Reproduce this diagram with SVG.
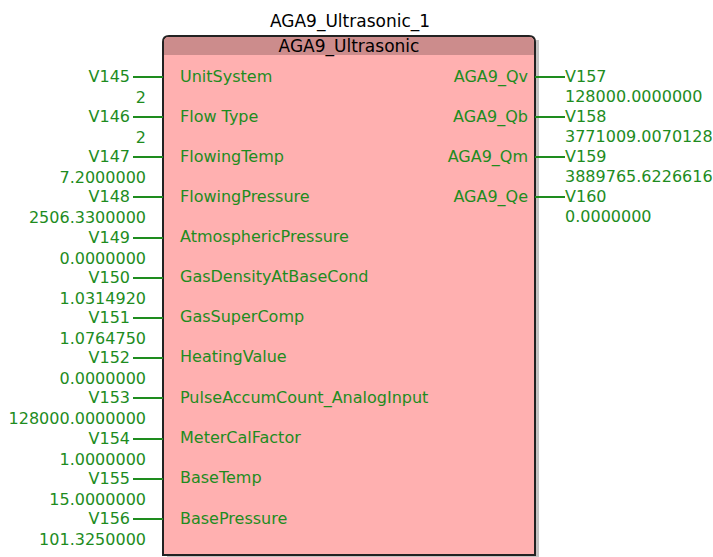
<svg xmlns="http://www.w3.org/2000/svg" width="713" height="557" viewBox="0 0 713 557">
<style>
.t{font-family:"DejaVu Sans","Liberation Sans",sans-serif;font-size:16px;fill:#1e8c1e}
.r{text-anchor:end}
.k{font-family:"DejaVu Sans","Liberation Sans",sans-serif;font-size:17px;fill:#000;text-anchor:middle}
.w{stroke:#1e8c1e;stroke-width:2}
</style>
<rect width="713" height="557" fill="#fff"/>
<g id="block">
<text class="k" x="350" y="27">AGA9_Ultrasonic_1</text>
<path d="M167,40 L167,558 L539,558 L539,40 Z" fill="#888" opacity="0.5"/>
<path d="M163,555 L163,42 Q163,36 169,36 L529,36 Q535,36 535,42 L535,555 Z" fill="#ffb0b0" stroke="#222" stroke-width="2"/>
<path d="M164,55 L164,42 Q164,37 169,37 L529,37 Q534,37 534,42 L534,55 Z" fill="#cc8c8c"/>
<text class="k" x="349" y="52">AGA9_Ultrasonic</text>
<g class="t">
<text x="180" y="82">UnitSystem</text>
<text x="180" y="122">Flow Type</text>
<text x="180" y="162">FlowingTemp</text>
<text x="180" y="202">FlowingPressure</text>
<text x="180" y="242">AtmosphericPressure</text>
<text x="180" y="282">GasDensityAtBaseCond</text>
<text x="180" y="322">GasSuperComp</text>
<text x="180" y="362">HeatingValue</text>
<text x="180" y="403">PulseAccumCount_AnalogInput</text>
<text x="180" y="443">MeterCalFactor</text>
<text x="180" y="483">BaseTemp</text>
<text x="180" y="524">BasePressure</text>
<text class="r" x="528" y="82">AGA9_Qv</text>
<text class="r" x="528" y="122">AGA9_Qb</text>
<text class="r" x="528" y="162">AGA9_Qm</text>
<text class="r" x="528" y="202">AGA9_Qe</text>
</g>
</g>
<g id="connectors" class="w">
<line x1="133" y1="77" x2="163" y2="77"/>
<line x1="133" y1="117" x2="163" y2="117"/>
<line x1="133" y1="157" x2="163" y2="157"/>
<line x1="133" y1="197" x2="163" y2="197"/>
<line x1="133" y1="238" x2="163" y2="238"/>
<line x1="133" y1="278" x2="163" y2="278"/>
<line x1="133" y1="318" x2="163" y2="318"/>
<line x1="133" y1="358" x2="163" y2="358"/>
<line x1="133" y1="398" x2="163" y2="398"/>
<line x1="133" y1="439" x2="163" y2="439"/>
<line x1="133" y1="479" x2="163" y2="479"/>
<line x1="133" y1="519" x2="163" y2="519"/>
<line x1="535" y1="77" x2="565" y2="77"/>
<line x1="535" y1="117" x2="565" y2="117"/>
<line x1="535" y1="157" x2="565" y2="157"/>
<line x1="535" y1="197" x2="565" y2="197"/>
</g>
<g id="inputs" class="t r">
<text x="130" y="82">V145</text><text x="146" y="103">2</text>
<text x="130" y="122">V146</text><text x="146" y="143">2</text>
<text x="130" y="162">V147</text><text x="146" y="183">7.2000000</text>
<text x="130" y="202">V148</text><text x="146" y="223">2506.3300000</text>
<text x="130" y="243">V149</text><text x="146" y="264">0.0000000</text>
<text x="130" y="283">V150</text><text x="146" y="304">1.0314920</text>
<text x="130" y="323">V151</text><text x="146" y="344">1.0764750</text>
<text x="130" y="363">V152</text><text x="146" y="384">0.0000000</text>
<text x="130" y="403">V153</text><text x="146" y="424">128000.0000000</text>
<text x="130" y="444">V154</text><text x="146" y="465">1.0000000</text>
<text x="130" y="484">V155</text><text x="146" y="505">15.0000000</text>
<text x="130" y="524">V156</text><text x="146" y="545">101.3250000</text>
</g>
<g id="outputs" class="t">
<text x="565" y="82">V157</text><text x="565" y="102">128000.0000000</text>
<text x="565" y="122">V158</text><text x="565" y="142">3771009.0070128</text>
<text x="565" y="162">V159</text><text x="565" y="182">3889765.6226616</text>
<text x="565" y="202">V160</text><text x="565" y="222">0.0000000</text>
</g>
</svg>
